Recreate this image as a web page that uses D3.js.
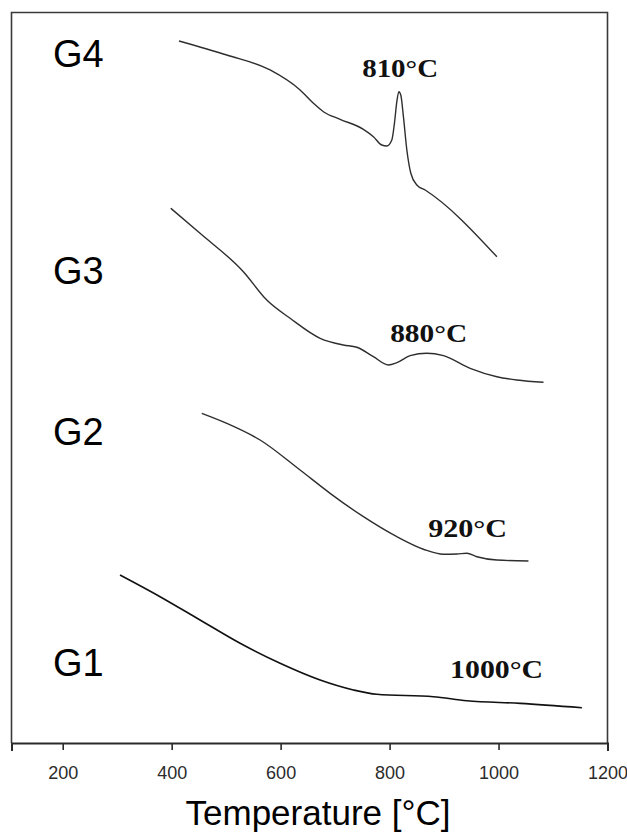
<!DOCTYPE html>
<html>
<head>
<meta charset="utf-8">
<script src="https://cdn.jsdelivr.net/npm/d3@7"></script>
<style>
  html, body { margin: 0; padding: 0; background: #fff; }
  svg { display: block; }
</style>
</head>
<body>
<script>
// ---- data (temperature in °C, DTA signal in arbitrary units) ----
const seriesNames = ["G1", "G2", "G3", "G4"];

const g4Temp = [413.5, 501.1, 580.6, 635.7, 660.2, 678.5, 709.2, 752.0, 770.3, 785.7, 794.9, 804.1, 808.9, 813.3, 817.0, 820.6, 825.4, 831.7, 839.0, 850.0, 865.3, 996.9];
const g4Sig  = [96.10, 94.18, 92.13, 89.39, 87.57, 86.42, 85.38, 84.01, 83.00, 81.86, 81.73, 82.55, 84.83, 87.79, 89.16, 88.71, 85.74, 81.18, 77.99, 76.39, 75.70, 66.57];

const g3Temp = [398.3, 452.1, 531.6, 574.6, 617.4, 672.5, 715.2, 739.8, 770.3, 797.9, 813.3, 837.7, 868.4, 898.9, 947.9, 996.9, 1033.6, 1082.5];
const g3Sig  = [73.20, 69.77, 64.52, 60.64, 58.14, 55.40, 54.48, 54.17, 52.88, 51.75, 52.06, 53.02, 53.35, 53.02, 51.29, 50.14, 49.69, 49.38];

const g2Temp = [455.2, 501.1, 562.3, 635.7, 690.8, 752.0, 813.3, 862.1, 898.9, 923.5, 941.8, 960.2, 996.9, 1054.9];
const g2Sig  = [45.13, 43.76, 41.48, 37.37, 34.18, 30.98, 28.24, 26.52, 25.83, 25.87, 25.97, 25.50, 25.05, 24.91];

const g1Temp = [305.2, 378.7, 452.1, 525.6, 599.0, 672.5, 733.6, 776.6, 880.5, 941.8, 1039.7, 1153.0];
const g1Sig  = [23.00, 20.03, 16.84, 13.65, 10.91, 8.62, 7.26, 6.67, 6.34, 5.79, 5.43, 4.83];

// group label: name, anchored at a signal level
const groupLabelSig = [9.2, 40.8, 62.9, 92.5];          // G1..G4
// peak annotations
const peakText = ["1000°C", "920°C", "880°C", "810°C"];
const peakTemp = [996.5, 943.3, 871.7, 819.4];
const peakSig  = [8.9, 28.2, 54.9, 91.2];

const xTicks = [200, 400, 600, 800, 1000, 1200];
const xDomain = [106, 1200];
const yDomain = [0, 100];
const xTitle = "Temperature [°C]";

// ---- drawing ----
const W = 627, H = 834;
const frame = { left: 11.5, right: 607.5, top: 12.5, bottom: 743 };

const x = d3.scaleLinear().domain(xDomain).range([frame.left, frame.right]);
const y = d3.scaleLinear().domain(yDomain).range([frame.bottom, frame.top]);

const svg = d3.select("body").append("svg").attr("width", W).attr("height", H);

// frame (left, top, right sides)
svg.append("path")
  .attr("d", `M${frame.left},${frame.bottom}V${frame.top}H${frame.right}V${frame.bottom}`)
  .attr("fill", "none").attr("stroke", "#3a3a3a").attr("stroke-width", 1.6);

// bottom axis
const axis = d3.axisBottom(x).tickValues(xTicks).tickSize(7).tickSizeOuter(8).tickPadding(16)
  .tickFormat(d3.format("d"));
const ax = svg.append("g").attr("transform", `translate(0,${frame.bottom})`).call(axis);
ax.select(".domain").attr("stroke", "#2a2a2a").attr("stroke-width", 2);
ax.selectAll(".tick line").attr("stroke", "#2a2a2a").attr("stroke-width", 1.6);
ax.selectAll(".tick text")
  .attr("font-family", "'Liberation Sans', Arial, sans-serif")
  .attr("font-size", 18).attr("fill", "#2b2b2b");

// axis title
svg.append("text")
  .attr("x", 318).attr("y", 825)
  .attr("text-anchor", "middle")
  .attr("font-family", "'Liberation Sans', Arial, sans-serif")
  .attr("font-size", 35).attr("fill", "#000")
  .text(xTitle);

// curves
const curves = [
  { t: g1Temp, s: g1Sig, color: "#111", w: 1.6 },
  { t: g2Temp, s: g2Sig, color: "#2e2e2e", w: 1.4 },
  { t: g3Temp, s: g3Sig, color: "#2e2e2e", w: 1.4 },
  { t: g4Temp, s: g4Sig, color: "#2e2e2e", w: 1.4 }
];
const line = d3.line().x(d => x(d[0])).y(d => y(d[1])).curve(d3.curveMonotoneX);
curves.forEach(c => {
  const pts = c.t.map((t, i) => [t, c.s[i]]);
  svg.append("path").attr("d", line(pts))
    .attr("fill", "none").attr("stroke", c.color).attr("stroke-width", c.w)
    .attr("stroke-linejoin", "round");
});

// group labels
seriesNames.forEach((n, i) => {
  svg.append("text")
    .attr("x", 53).attr("y", y(groupLabelSig[i]))
    .attr("font-family", "'Liberation Sans', Arial, sans-serif")
    .attr("font-size", 38).attr("fill", "#000")
    .text(n);
});

// peak annotations
const peakWidths = [93, 79, 77, 76];
peakText.forEach((t, i) => {
  svg.append("text")
    .attr("x", x(peakTemp[i])).attr("y", y(peakSig[i]))
    .attr("text-anchor", "middle")
    .attr("font-family", "'Liberation Serif', 'Times New Roman', serif")
    .attr("font-weight", "bold")
    .attr("font-size", 26).attr("fill", "#111")
    .attr("textLength", peakWidths[i]).attr("lengthAdjust", "spacingAndGlyphs")
    .text(t);
});
</script>
</body>
</html>
